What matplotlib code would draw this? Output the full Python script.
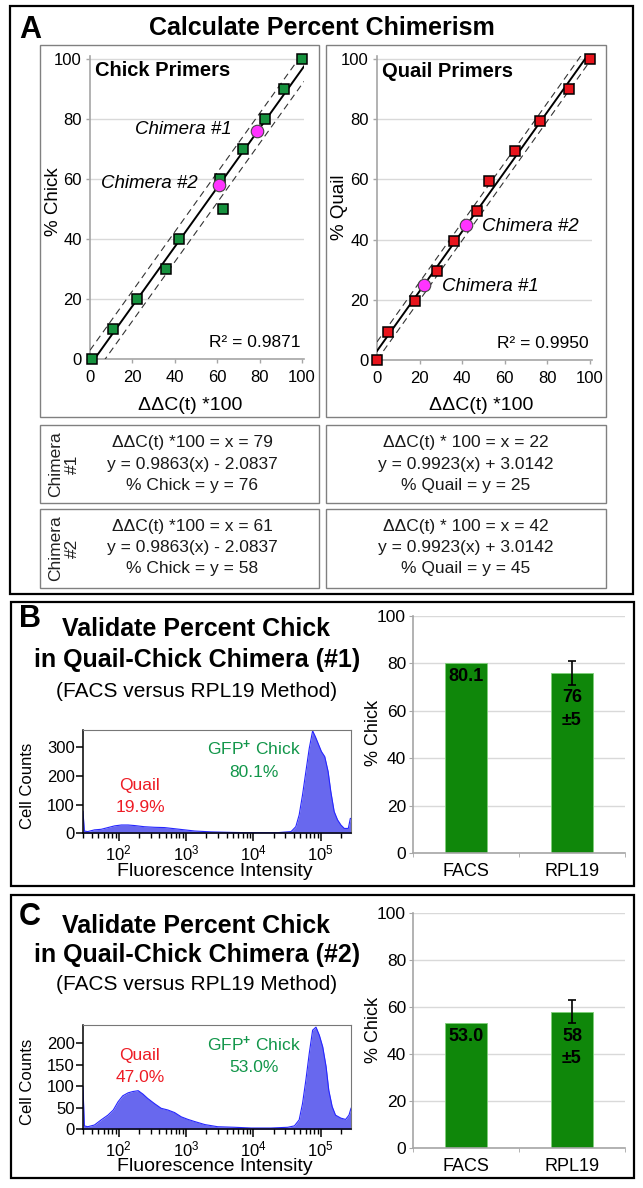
import numpy as np
import matplotlib
matplotlib.use("Agg")
import matplotlib.pyplot as plt
from matplotlib.patches import Rectangle
from matplotlib.ticker import LogLocator, NullFormatter, FixedLocator

plt.rcParams['font.family'] = ['Liberation Sans', 'DejaVu Sans']
plt.rcParams['mathtext.fontset'] = 'custom'
plt.rcParams['mathtext.rm'] = 'Liberation Sans'
plt.rcParams['mathtext.it'] = 'Liberation Sans:italic'
plt.rcParams['mathtext.bf'] = 'Liberation Sans:bold'

W, H = 643, 1188

# ---- panel A : standard curves ----
chick_x = [1, 11, 22, 36, 42, 63, 61.5, 72, 82.5, 91.5, 100]
chick_y = [0, 10, 20, 30, 40, 50, 60, 70, 80, 90, 100]
chick_slope, chick_icpt = 0.9863, -2.0837
chick_band = 5.0
chick_chim_x = [79, 61]
chick_chim_y = [76, 58]

quail_x = [0, 5, 18, 28, 36, 47, 52.5, 65, 76.5, 90, 100]
quail_y = [0, 9.4, 19.5, 29.5, 39.5, 49.5, 59.5, 69.5, 79.5, 90, 100]
quail_slope, quail_icpt = 0.9923, 3.0142
quail_band = 3.0
quail_chim_x = [22, 42]
quail_chim_y = [25, 45]

# ---- panels B / C : FACS histograms (log10 intensity, cell counts) ----
logx_b = [1.47, 1.49, 1.54, 1.64, 1.74, 1.84, 1.94, 2.04, 2.14, 2.24, 2.38, 2.53,
          2.68, 2.83, 2.98, 3.13, 3.37, 3.62, 3.87, 4.11, 4.36, 4.56, 4.63, 4.68,
          4.73, 4.78, 4.83, 4.88, 4.92, 4.96, 5.01, 5.06, 5.11, 5.15, 5.20, 5.25,
          5.30, 5.35, 5.41, 5.44, 5.45]
counts_b = [76, 8, 6, 12, 14, 20, 26, 29, 29, 27, 23, 21, 20, 16, 12, 8, 5, 3.5,
            2.3, 2.3, 2.3, 6, 23, 64, 134, 216, 297, 358, 338, 315, 286, 268, 216,
            146, 76, 47, 29, 17, 17, 52, 52]

logx_c = [1.47, 1.49, 1.54, 1.64, 1.74, 1.84, 1.92, 1.99, 2.06, 2.14, 2.21, 2.29,
          2.36, 2.43, 2.53, 2.63, 2.73, 2.83, 2.93, 3.03, 3.13, 3.28, 3.47, 3.72,
          3.97, 4.26, 4.51, 4.61, 4.68, 4.73, 4.78, 4.83, 4.88, 4.93, 4.98, 5.03,
          5.08, 5.12, 5.17, 5.22, 5.30, 5.37, 5.42, 5.45]
counts_c = [99, 8, 6, 10, 22, 33, 45, 64, 78, 85, 88, 90, 82, 72, 60, 49, 45, 39,
            29, 23, 18, 11, 6, 4.7, 3, 3, 4.7, 8, 22, 60, 115, 177, 231, 238, 219,
            192, 146, 91, 53, 33, 26, 23, 33, 49]

# ---- bar charts ----
bar_cats = ['FACS', 'RPL19']
b_vals = [80.1, 76]
c_vals = [53.0, 58]
rpl_err = 5

fig = plt.figure(figsize=(W / 100, H / 100), dpi=100)


def fx(x):
    return x / W


def fy(y):
    return 1 - y / H


def add_ax(x0, y0, x1, y1):
    return fig.add_axes([fx(x0), fy(y1), (x1 - x0) / W, (y1 - y0) / H])


def box(x0, y0, x1, y1, ec='#808080', lw=1.0):
    fig.patches.append(Rectangle((fx(x0), fy(y1)), (x1 - x0) / W, (y1 - y0) / H,
                                 transform=fig.transFigure, fill=False, ec=ec, lw=lw))


def txt(x, y, s, **kw):
    kw.setdefault('ha', 'center')
    kw.setdefault('va', 'baseline')
    fig.text(fx(x), fy(y), s, **kw)


# outer boxes
box(10, 6, 633, 594, ec='black', lw=1.6)
box(11, 602, 634, 886, ec='black', lw=1.6)
box(11, 895, 634, 1178, ec='black', lw=1.6)

# ================= panel A =================
txt(30, 38, 'A', fontsize=22, fontweight='bold')
txt(322, 35, 'Calculate Percent Chimerism', fontsize=18, fontweight='bold')

box(40, 45, 319, 417)
box(326, 45, 606, 417)
box(40, 425, 319, 503)
box(326, 425, 606, 503)
box(40, 509, 319, 588)
box(326, 509, 606, 588)


def calib(ax, xs, ys, slope, icpt, band, cx, cy, color, title, r2, labs):
    ax.set_xlim(0, 101)
    ax.set_ylim(0, 101)
    ax.set_xticks(range(0, 101, 20))
    ax.set_yticks(range(0, 101, 20))
    ax.yaxis.grid(True, color='#d9d9d9', lw=1)
    ax.set_axisbelow(True)
    for s in ['top', 'right']:
        ax.spines[s].set_visible(False)
    for s in ['left', 'bottom']:
        ax.spines[s].set_color('#a6a6a6')
        ax.spines[s].set_linewidth(1.2)
    ax.tick_params(axis='x', length=3, width=1, color='#a6a6a6', labelsize=12, pad=5)
    ax.tick_params(axis='y', length=3, width=1, color='#a6a6a6', labelsize=12, pad=3)
    xx = np.linspace(*ax.get_xlim(), 50)
    ax.plot(xx, slope * xx + icpt, color='black', lw=1.4, zorder=3)
    ax.plot(xx, slope * xx + icpt + band, color='#333333', lw=0.8, ls=(0, (6, 4)), zorder=3)
    ax.plot(xx, slope * xx + icpt - band, color='#333333', lw=0.8, ls=(0, (6, 4)), zorder=3)
    ax.plot(xs, ys, ls='none', marker='s', ms=7.5, mfc=color, mec='black', mew=1.1,
            zorder=4, clip_on=False)
    ax.plot(cx, cy, ls='none', marker='o', ms=9, mfc='#ff33ff', mec='#444444', mew=0.8,
            zorder=5, clip_on=False)
    ax.text(2.5, 96, title, fontsize=14.5, fontweight='bold', va='center', ha='left')
    ax.text(99.5, 5.5, r2, fontsize=12.5, va='center', ha='right')
    for (x, y, s, ha) in labs:
        ax.text(x, y, s, fontsize=13.5, style='italic', va='center', ha=ha)


ax = add_ax(90, 56, 304, 359)
calib(ax, chick_x, chick_y, chick_slope, chick_icpt, chick_band, chick_chim_x, chick_chim_y,
      '#16923e', 'Chick Primers', 'R² = 0.9871',
      [(67, 76.5, 'Chimera #1', 'right'), (51, 58.5, 'Chimera #2', 'right')])
txt(53, 202, '% Chick', fontsize=13.5, rotation=90, va='center')
txt(190, 410, 'ΔΔC(t) *100', fontsize=14)

ax = add_ax(377, 56, 592, 360)
calib(ax, quail_x, quail_y, quail_slope, quail_icpt, quail_band, quail_chim_x, quail_chim_y,
      '#e8141c', 'Quail Primers', 'R² = 0.9950',
      [(30.5, 24.5, 'Chimera #1', 'left'), (49.5, 44.5, 'Chimera #2', 'left')])
txt(339, 207, '% Quail', fontsize=13.5, rotation=90, va='center')
txt(481, 410, 'ΔΔC(t) *100', fontsize=14)

# equation boxes
txt(64, 464, 'Chimera\n#1', fontsize=12.5, rotation=90, va='center', color='#222222',
    linespacing=1.1)
txt(64, 548, 'Chimera\n#2', fontsize=12.5, rotation=90, va='center', color='#222222',
    linespacing=1.1)
rows = [
    (447, 469, 490, 'ΔΔC(t) *100 = x = 79', 'y = 0.9863(x) - 2.0837', '% Chick = y = 76',
     'ΔΔC(t) * 100 = x = 22', 'y = 0.9923(x) + 3.0142', '% Quail = y = 25'),
    (531, 552, 573, 'ΔΔC(t) *100 = x = 61', 'y = 0.9863(x) - 2.0837', '% Chick = y = 58',
     'ΔΔC(t) * 100 = x = 42', 'y = 0.9923(x) + 3.0142', '% Quail = y = 45'),
]
for r in rows:
    for k in range(3):
        txt(192, r[k], r[3 + k], fontsize=12.5, color='#1a1a1a')
        txt(466, r[k], r[6 + k], fontsize=12.5, color='#1a1a1a')


# ================= panels B / C =================
def histo(ax, lx, counts, ymax, yticks):
    xs = 10 ** np.array(lx)
    ax.fill_between(xs, counts, color='#6868ee', lw=0)
    ax.plot(xs, counts, color='#2626ff', lw=0.8)
    ax.set_xscale('log')
    ax.set_xlim(10 ** 1.47, 10 ** 5.45)
    ax.set_ylim(0, ymax)
    ax.set_yticks(yticks)
    ax.xaxis.set_major_locator(FixedLocator([1e2, 1e3, 1e4, 1e5]))
    ax.xaxis.set_minor_locator(LogLocator(base=10, subs=np.arange(2, 10), numticks=20))
    ax.xaxis.set_minor_formatter(NullFormatter())
    ax.set_xticklabels([r'$10^{2}$', r'$10^{3}$', r'$10^{4}$', r'$10^{5}$'])
    for s in ['top', 'right']:
        ax.spines[s].set_color('#777777')
    for s in ['left', 'bottom']:
        ax.spines[s].set_color('black')
        ax.spines[s].set_linewidth(1.1)
    ax.tick_params(axis='y', length=5, width=1.1, labelsize=12, pad=1)
    ax.tick_params(axis='x', which='major', length=6, width=1.1, labelsize=12, pad=1)
    ax.tick_params(axis='x', which='minor', length=3.5, width=1.0)


def bars(ax, vals):
    xs = np.arange(len(bar_cats))
    ax.bar(xs, vals, width=0.4, color='#0f870a', edgecolor='#7fd07a', lw=0.6, zorder=2)
    ax.errorbar(xs[1], vals[1], yerr=rpl_err, color='black', lw=1.2, capsize=3,
                capthick=1.2, zorder=3)
    ax.set_xlim(-0.5, 1.5)
    ax.set_ylim(0, 100)
    ax.set_yticks(range(0, 101, 20))
    ax.set_xticks(xs)
    ax.set_xticklabels(bar_cats, fontsize=13)
    ax.set_xticks([-0.5, 0.5, 1.5], minor=True)
    ax.yaxis.grid(True, color='#d9d9d9', lw=1)
    ax.set_axisbelow(True)
    for s in ['top', 'right']:
        ax.spines[s].set_visible(False)
    for s in ['left', 'bottom']:
        ax.spines[s].set_color('#a6a6a6')
        ax.spines[s].set_linewidth(1.2)
    ax.tick_params(axis='x', which='major', length=0, pad=7)
    ax.tick_params(axis='x', which='minor', length=3, color='#a6a6a6')
    ax.tick_params(axis='y', length=3, color='#a6a6a6', labelsize=12.5, pad=2)
    ax.text(xs[0], vals[0] - 5.5, f'{vals[0]:.1f}', ha='center', va='center',
            fontsize=13, fontweight='bold')
    ax.text(xs[1], vals[1] - 10.5, f'{vals[1]:.0f}', ha='center', va='center',
            fontsize=13, fontweight='bold')
    ax.text(xs[1], vals[1] - 20, f'±{rpl_err}', ha='center', va='center',
            fontsize=13, fontweight='bold')


panels = [
    ('B', '#1', logx_b, counts_b, 361, [0, 100, 200, 300], '19.9%', '80.1%', b_vals),
    ('C', '#2', logx_c, counts_c, 243, [0, 50, 100, 150, 200], '47.0%', '53.0%', c_vals),
]
for letter, num, lx, cnt, ymax, yt, qp, cp, vals in panels:
    if letter == 'B':
        ys = (627, 636, 667, 697)
        hax = add_ax(83, 730, 351, 833.3)
        lab = (790, 812, 755, 777, 786, 876)
        bax = add_ax(413, 616, 625, 853)
        bl = 733
    else:
        ys = (925, 933, 962, 990)
        hax = add_ax(83, 1025, 351, 1129.3)
        lab = (1060, 1082, 1051, 1072, 1082, 1171)
        bax = add_ax(413, 913, 625, 1148)
        bl = 1030
    txt(30, ys[0], letter, fontsize=22, fontweight='bold')
    txt(196, ys[1], 'Validate Percent Chick', fontsize=18, fontweight='bold')
    txt(197, ys[2], f'in Quail-Chick Chimera ({num})', fontsize=18, fontweight='bold')
    txt(197, ys[3], '(FACS versus RPL19 Method)', fontsize=15)

    histo(hax, lx, cnt, ymax, yt)
    txt(140, lab[0], 'Quail', fontsize=12.5, color='#ee1c25')
    txt(140, lab[1], qp, fontsize=12.5, color='#ee1c25')
    txt(254, lab[2], r'GFP$^{\mathbf{+}}$ Chick', fontsize=12.5, color='#12964a')
    txt(254, lab[3], cp, fontsize=12.5, color='#12964a')
    txt(28, lab[4], 'Cell Counts', fontsize=12, rotation=90, va='center')
    txt(215, lab[5], 'Fluorescence Intensity', fontsize=14)

    bars(bax, vals)
    txt(373, bl, '% Chick', fontsize=13, rotation=90, va='center')

fig.savefig('out.png', dpi=100)
